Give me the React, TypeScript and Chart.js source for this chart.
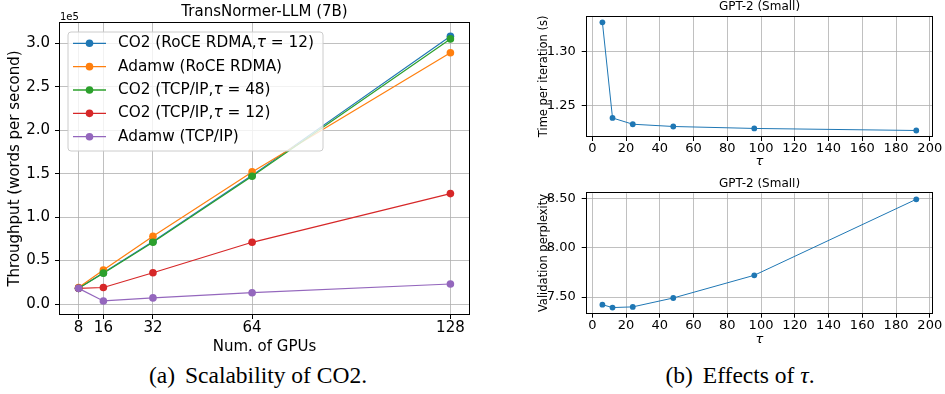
import React, { useEffect, useRef } from "react";
import { Chart, registerables } from "chart.js";
Chart.register(...registerables);

// ---------- data: left panel ----------
const gpus = [8, 16, 32, 64, 128];
const gpuTicks = [8, 16, 32, 64, 128];
const throughputTicks = [0, 50000, 100000, 150000, 200000, 250000, 300000];
const seriesLabels = [
  "CO2 (RoCE RDMA,τ = 12)",
  "Adamw (RoCE RDMA)",
  "CO2 (TCP/IP,τ = 48)",
  "CO2 (TCP/IP,τ = 12)",
  "Adamw (TCP/IP)",
];
const co2RoceTau12 = [18000, 36000, 72000, 148000, 308000];
const adamwRoce = [19000, 39000, 78000, 152000, 289000];
const co2TcpTau48 = [18000, 35500, 71000, 147000, 305000];
const co2TcpTau12 = [18000, 19000, 36000, 71000, 127000];
const adamwTcp = [18000, 3500, 7000, 13000, 23000];
const seriesColors = ["#1f77b4", "#ff7f0e", "#2ca02c", "#d62728", "#9467bd"];

// ---------- data: right panels ----------
const taus = [6, 12, 24, 48, 96, 192];
const timePerIter = [1.3272, 1.2386, 1.2328, 1.2307, 1.2289, 1.227];
const valPerplexity = [7.422, 7.393, 7.4, 7.49, 7.72, 8.49];
const tauTicks = [0, 20, 40, 60, 80, 100, 120, 140, 160, 180, 200];
const timeTicks = [1.25, 1.3];
const pplTicks = [7.5, 8.0, 8.5];

const FONT = '"DejaVu Sans"';
const GRID = "#b0b0b0";

function framePlugin(title: string, titleSize: number, titleGap: number, offsetText?: string) {
  return {
    id: "frame",
    afterDatasetsDraw(chart: any) {
      const { ctx, chartArea: a } = chart;
      ctx.save();
      ctx.strokeStyle = "#000";
      ctx.lineWidth = 1;
      const l = Math.round(a.left) - 0.5;
      const t = Math.round(a.top) - 0.5;
      const r = Math.round(a.right) + 0.5;
      const b = Math.round(a.bottom) + 0.5;
      ctx.strokeRect(l, t, r - l, b - t);
      ctx.restore();
    },
    afterDraw(chart: any) {
      const { ctx, chartArea: a } = chart;
      ctx.save();
      ctx.fillStyle = "#000";
      ctx.font = `${titleSize}px ${FONT}`;
      ctx.textAlign = "center";
      ctx.textBaseline = "middle";
      ctx.fillText(title, (a.left + a.right) / 2, a.top - titleGap);
      if (offsetText) {
        ctx.font = `10px ${FONT}`;
        ctx.textAlign = "left";
        ctx.fillText(offsetText, a.left, a.top - 6);
      }
      ctx.restore();
    },
  };
}

const legendPlugin = {
  id: "boxLegend",
  afterDraw(chart: any) {
    const { ctx, chartArea: a } = chart;
    const x0 = a.left + 8;
    const y0 = a.top + 9;
    const w = 255;
    const h = 119;
    ctx.save();
    ctx.beginPath();
    const rr = 3;
    ctx.moveTo(x0 + rr, y0);
    ctx.lineTo(x0 + w - rr, y0);
    ctx.quadraticCurveTo(x0 + w, y0, x0 + w, y0 + rr);
    ctx.lineTo(x0 + w, y0 + h - rr);
    ctx.quadraticCurveTo(x0 + w, y0 + h, x0 + w - rr, y0 + h);
    ctx.lineTo(x0 + rr, y0 + h);
    ctx.quadraticCurveTo(x0, y0 + h, x0, y0 + h - rr);
    ctx.lineTo(x0, y0 + rr);
    ctx.quadraticCurveTo(x0, y0, x0 + rr, y0);
    ctx.closePath();
    ctx.fillStyle = "rgba(255,255,255,0.8)";
    ctx.fill();
    ctx.strokeStyle = "#cccccc";
    ctx.lineWidth = 1;
    ctx.stroke();

    chart.data.datasets.forEach((ds: any, i: number) => {
      const y = y0 + 11.3 + i * 23.35;
      ctx.strokeStyle = ds.borderColor;
      ctx.lineWidth = 1.3;
      ctx.beginPath();
      ctx.moveTo(x0 + 5, y);
      ctx.lineTo(x0 + 38, y);
      ctx.stroke();
      ctx.fillStyle = ds.borderColor;
      ctx.beginPath();
      ctx.arc(x0 + 21.5, y, 3.8, 0, Math.PI * 2);
      ctx.fill();

      ctx.fillStyle = "#000";
      ctx.textAlign = "left";
      ctx.textBaseline = "middle";
      const parts = String(ds.label).split("τ");
      let x = x0 + 50;
      parts.forEach((p: string, j: number) => {
        if (j > 0) {
          ctx.font = `italic 15.3px ${FONT}`;
          ctx.fillText("τ", x, y);
          x += ctx.measureText("τ").width;
        }
        ctx.font = `15.3px ${FONT}`;
        ctx.fillText(p, x, y);
        x += ctx.measureText(p).width;
      });
    });
    ctx.restore();
  },
};

function gridOpts(tickLength: number) {
  return {
    color: GRID,
    lineWidth: 0.8,
    drawTicks: true,
    tickLength,
    tickColor: "#000",
    tickWidth: 1,
  };
}

function LeftChart() {
  const ref = useRef<HTMLCanvasElement>(null);
  useEffect(() => {
    const data = [co2RoceTau12, adamwRoce, co2TcpTau48, co2TcpTau12, adamwTcp];
    const chart = new Chart(ref.current!, {
      type: "line",
      data: {
        datasets: data.map((vals, i) => ({
          label: seriesLabels[i],
          data: gpus.map((g, k) => ({ x: g, y: vals[k] })),
          borderColor: seriesColors[i],
          backgroundColor: seriesColors[i],
          pointBackgroundColor: seriesColors[i],
          pointBorderWidth: 0,
          pointRadius: 3.8,
          borderWidth: 1.2,
          tension: 0,
          order: 4 - i,
        })),
      },
      options: {
        animation: false,
        responsive: false,
        devicePixelRatio: 1,
        layout: { padding: { left: 0, top: 23, right: 11, bottom: 0 } },
        plugins: { legend: { display: false }, tooltip: { enabled: false } },
        scales: {
          x: {
            type: "linear",
            min: 2,
            max: 134,
            afterBuildTicks: (s: any) => {
              s.ticks = gpuTicks.map((v) => ({ value: v }));
            },
            afterFit: (s: any) => {
              s.height = 48;
            },
            grid: gridOpts(5),
            border: { display: false },
            ticks: {
              padding: 0,
              color: "#000",
              font: { family: FONT, size: 15 },
              callback: (v: any) => String(v),
              maxRotation: 0,
              autoSkip: false,
            },
            title: {
              display: true,
              text: "Num. of GPUs",
              color: "#000",
              font: { family: FONT, size: 15 },
              padding: { top: 0, bottom: 6 },
            },
          },
          y: {
            type: "linear",
            min: -11500,
            max: 323300,
            afterBuildTicks: (s: any) => {
              s.ticks = throughputTicks.map((v) => ({ value: v }));
            },
            afterFit: (s: any) => {
              s.width = 60;
            },
            grid: gridOpts(5),
            border: { display: false },
            ticks: {
              padding: 5,
              color: "#000",
              font: { family: FONT, size: 15 },
              callback: (v: any) => (Number(v) / 1e5).toFixed(1),
            },
            title: {
              display: true,
              text: "Throughput (words per second)",
              color: "#000",
              font: { family: FONT, size: 15 },
              padding: { top: 6.5, bottom: 0 },
            },
          },
        },
      },
      plugins: [framePlugin("TransNormer-LLM (7B)", 15, 11, "1e5"), legendPlugin],
    } as any);
    return () => chart.destroy();
  }, []);
  return (
    <canvas
      ref={ref}
      width={480}
      height={362}
      style={{ position: "absolute", left: 0, top: 0, width: 480, height: 362 }}
    />
  );
}

function TauChart(props: {
  top: number;
  values: number[];
  yTicks: number[];
  yMin: number;
  yMax: number;
  yLabel: string;
  padTop: number;
  xHeight: number;
}) {
  const ref = useRef<HTMLCanvasElement>(null);
  useEffect(() => {
    const chart = new Chart(ref.current!, {
      type: "line",
      data: {
        datasets: [
          {
            label: props.yLabel,
            data: taus.map((t, k) => ({ x: t, y: props.values[k] })),
            borderColor: "#1f77b4",
            backgroundColor: "#1f77b4",
            pointBackgroundColor: "#1f77b4",
            pointBorderWidth: 0,
            pointRadius: 2.9,
            borderWidth: 1,
            tension: 0,
          },
        ],
      },
      options: {
        animation: false,
        responsive: false,
        devicePixelRatio: 1,
        layout: { padding: { left: 0, top: props.padTop, right: 12.7, bottom: 0 } },
        plugins: { legend: { display: false }, tooltip: { enabled: false } },
        scales: {
          x: {
            type: "linear",
            min: -3.3,
            max: 201.5,
            afterBuildTicks: (s: any) => {
              s.ticks = tauTicks.map((v) => ({ value: v }));
            },
            afterFit: (s: any) => {
              s.height = props.xHeight;
            },
            grid: gridOpts(5),
            border: { display: false },
            ticks: {
              padding: 0,
              color: "#000",
              font: { family: FONT, size: 13 },
              callback: (v: any) => String(v),
              maxRotation: 0,
              autoSkip: false,
            },
            title: {
              display: true,
              text: "τ",
              color: "#000",
              font: { family: FONT, size: 13, style: "italic" },
              padding: { top: 0, bottom: 2.2 },
            },
          },
          y: {
            type: "linear",
            min: props.yMin,
            max: props.yMax,
            afterBuildTicks: (s: any) => {
              s.ticks = props.yTicks.map((v) => ({ value: v }));
            },
            afterFit: (s: any) => {
              s.width = 66.7;
            },
            grid: gridOpts(5),
            border: { display: false },
            ticks: {
              padding: 6,
              color: "#000",
              font: { family: FONT, size: 13 },
              callback: (v: any) => Number(v).toFixed(2),
            },
            title: {
              display: true,
              text: props.yLabel,
              color: "#000",
              font: { family: FONT, size: 11.5 },
              padding: { top: 17, bottom: 0 },
            },
          },
        },
      },
      plugins: [framePlugin("GPT-2 (Small)", 12, 9.4)],
    } as any);
    return () => chart.destroy();
  }, []);
  return (
    <canvas
      ref={ref}
      width={425}
      height={172}
      style={{ position: "absolute", left: 520, top: props.top, width: 425, height: 172 }}
    />
  );
}

const captionStyle: React.CSSProperties = {
  position: "absolute",
  width: 400,
  textAlign: "center",
  fontFamily: '"Liberation Serif", "Times New Roman", serif',
  fontSize: 23.5,
  lineHeight: "23.5px",
  color: "#000",
  whiteSpace: "nowrap",
};

export default function App() {
  return (
    <div
      style={{
        position: "fixed",
        left: 0,
        top: 0,
        width: 945,
        height: 394,
        background: "#fff",
        overflow: "hidden",
      }}
    >
      <LeftChart />
      <TauChart
        top={0}
        values={timePerIter}
        yTicks={timeTicks}
        yMin={1.2219}
        yMax={1.3324}
        yLabel="Time per iteration (s)"
        padTop={16.7}
        xHeight={36}
      />
      <TauChart
        top={178}
        values={valPerplexity}
        yTicks={pplTicks}
        yMin={7.341}
        yMax={8.5507}
        yLabel="Validation perplexity"
        padTop={15.3}
        xHeight={37.3}
      />
      <div style={{ ...captionStyle, left: 258 - 200, top: 364 }}>
        <span>(a)</span>
        <span style={{ marginLeft: 10 }}>Scalability of CO2.</span>
      </div>
      <div style={{ ...captionStyle, left: 740 - 200, top: 364 }}>
        <span>(b)</span>
        <span style={{ marginLeft: 10 }}>
          Effects of <i>τ</i>.
        </span>
      </div>
    </div>
  );
}
